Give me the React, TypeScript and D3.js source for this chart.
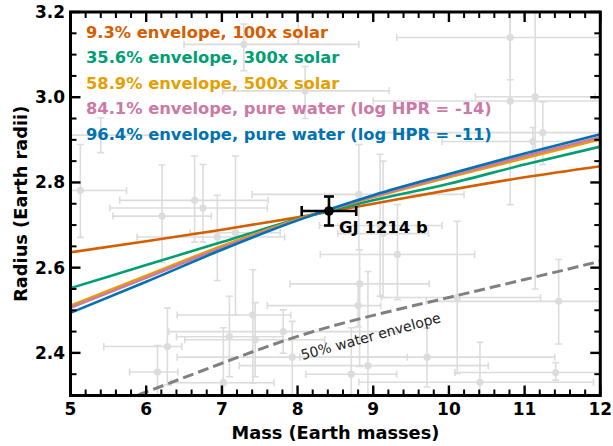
import React from "react";
import * as d3 from "d3";

const W = 613;
const H = 446;

const massTicks = [5, 6, 7, 8, 9, 10, 11, 12];
const radiusTicks = [2.4, 2.6, 2.8, 3.0, 3.2];

// model curves
const modelMass = [5, 6, 7, 8, 9, 10, 11, 12];
const r100xSolar = [2.636, 2.662, 2.689, 2.718, 2.75, 2.782, 2.812, 2.838];
const r300xSolar = [2.552, 2.606, 2.66, 2.714, 2.758, 2.797, 2.842, 2.884];
const r500xSolar = [2.511, 2.581, 2.651, 2.713, 2.765, 2.812, 2.857, 2.901];
const rWater14 = [2.506, 2.576, 2.647, 2.712, 2.767, 2.816, 2.862, 2.906];
const rWater11 = [2.494, 2.567, 2.642, 2.711, 2.77, 2.82, 2.868, 2.913];
const seriesNames = [
  "9.3% envelope, 100x solar",
  "35.6% envelope, 300x solar",
  "58.9% envelope, 500x solar",
  "84.1% envelope, pure water (log HPR = -14)",
  "96.4% envelope, pure water (log HPR = -11)",
];
const seriesColors = ["#D55E00", "#009E73", "#E69F00", "#CC79A7", "#0072B2"];

// 50% water envelope
const waterMass = [5.5, 6, 7, 8, 9, 10, 11, 12];
const waterRadius = [2.275, 2.308, 2.376, 2.442, 2.489, 2.53, 2.572, 2.615];

// background planets
const obsMass = [7.29, 5.13, 6.21, 6.64, 6.75, 6.94, 7.18, 6.28, 6.15, 7.1, 7.02, 7.41, 7.44, 7.81, 7.93, 8.82, 8.8, 9.32, 8.71, 8.93, 10.11, 11.45, 9.71, 10.41, 11.41, 8.1, 8.81, 10.81, 10.81, 11.14, 11.24, 11.11, 5.4, 9.09, 9.13, 8.01];
const obsMassLo = [0.79, 0.7, 0.65, 0.99, 1.23, 1.06, 0.6, 0.84, 0.37, 0.7, 0.69, 1.0, 0.93, 1.51, 1.52, 0.92, 1.2, 1.02, 0.6, 1.7, 1.0, 1.75, 1.68, 1.6, 1.33, 1.09, 1.41, 1.5, 1.81, 0.79, 2.18, 1.2, 0.8, 0.8, 0.6, 0.5];
const obsMassHi = [1.52, 0.61, 0.65, 0.97, 0.85, 0.89, 0.59, 0.19, 0.27, 0.71, 0.67, 0.5, 0.92, 1.51, 1.52, 0.92, 0.3, 1.02, 0.6, 1.59, 1.1, 1.75, 1.69, 1.5, 1.33, 1.11, 1.39, 1.5, 1.81, 0.79, 2.18, 1.2, 0.8, 0.82, 0.6, 0.5];
const obsRadius = [3.124, 2.781, 2.721, 2.758, 2.74, 2.672, 2.682, 2.415, 2.355, 2.438, 2.33, 2.489, 2.431, 2.45, 2.39, 2.562, 2.511, 2.631, 2.35, 2.37, 2.53, 2.521, 2.39, 2.331, 2.354, 3.015, 2.772, 3.14, 2.991, 3.001, 2.917, 2.896, 2.911, 2.699, 2.68, 3.26];
const obsRadLo = [0.062, 0.11, 0.109, 0.098, 0.08, 0.102, 0.193, 0.09, 0.08, 0.094, 0.1, 0.16, 0.087, 0.051, 0.1, 0.194, 0.05, 0.106, 0.1, 0.1, 0.178, 0.1, 0.07, 0.1, 0.018, 0.065, 0.13, 0.099, 0.243, 0.451, 0.075, 0.034, 0.041, 0.166, 0.15, 0.135];
const obsRadHi = [0.048, 0.108, 0.12, 0.104, 0.102, 0.098, 0.18, 0.09, 0.062, 0.095, 0.129, 0.106, 0.087, 0.051, 0.084, 0.08, 0.05, 0.117, 0.109, 0.221, 0.179, 0.098, 0.068, 0.094, 0.023, 0.057, 0.117, 0.1, 0.22, 0.45, 0.072, 0.033, 0.041, 0.167, 0.17, 0.1];

// GJ 1214 b
const gjMass = 8.415;
const gjMassErr = 0.36;
const gjRadius = 2.733;
const gjRadiusErr = 0.034;

export default function App() {
  const left = 70.5, right = 600.3, top = 12, bottom = 395.5;
  const x = d3.scaleLinear().domain([5, 12]).range([left, right]);
  const y = d3.scaleLinear().domain([2.3, 3.2]).range([bottom, top]);
  const font = "DejaVu Sans";
  const modelSeries = [r100xSolar, r300xSolar, r500xSolar, rWater14, rWater11];

  const line = d3
    .line<[number, number]>()
    .x((d) => x(d[0]))
    .y((d) => y(d[1]))
    .curve(d3.curveMonotoneX);

  const waterLine = d3
    .line<[number, number]>()
    .x((d) => x(d[0]))
    .y((d) => y(d[1]))
    .curve(d3.curveBasis);

  const xMinor = d3.range(5, 12.001, 0.2).filter((v) => Math.abs(v - Math.round(v)) > 1e-6);
  const yMinor = d3.range(2.3, 3.2001, 0.05).filter((v) => Math.abs(v * 5 - Math.round(v * 5)) > 1e-6);

  const gray = "#dcdcdc";
  const cap = 3.5;
  const maj = 10, mnr = 6;

  return (
    <svg width={W} height={H} style={{ position: "absolute", left: 0, top: 0, background: "#fff" }} fontFamily={font}>
      <defs>
        <clipPath id="plotclip">
          <rect x={left} y={top} width={right - left} height={bottom - top} />
        </clipPath>
      </defs>
      <rect x={0} y={0} width={W} height={H} fill="#fff" />

      <g clipPath="url(#plotclip)">
        {/* background planets */}
        {obsMass.map((m, i) => {
          const cx = x(m), cy = y(obsRadius[i]);
          const x0 = x(m - obsMassLo[i]), x1 = x(m + obsMassHi[i]);
          const y0 = y(obsRadius[i] - obsRadLo[i]), y1 = y(obsRadius[i] + obsRadHi[i]);
          return (
            <g key={i} stroke={gray} strokeWidth={1.6} fill="none">
              <line x1={x0} x2={x1} y1={cy} y2={cy} />
              <line x1={x0} x2={x0} y1={cy - cap} y2={cy + cap} />
              <line x1={x1} x2={x1} y1={cy - cap} y2={cy + cap} />
              <line x1={cx} x2={cx} y1={y0} y2={y1} />
              <line x1={cx - cap} x2={cx + cap} y1={y0} y2={y0} />
              <line x1={cx - cap} x2={cx + cap} y1={y1} y2={y1} />
              <circle cx={cx} cy={cy} r={3.6} fill={gray} stroke="none" />
            </g>
          );
        })}

        {/* 50% water dashed */}
        <path
          d={waterLine(waterMass.map((m, i) => [m, waterRadius[i]] as [number, number])) || ""}
          fill="none"
          stroke="#808080"
          strokeWidth={3}
          strokeDasharray="11,5"
        />

        {/* model curves */}
        {modelSeries.map((s, k) => (
          <path
            key={k}
            d={line(modelMass.map((m, i) => [m, s[i]] as [number, number])) || ""}
            fill="none"
            stroke={seriesColors[k]}
            strokeWidth={2.6}
          />
        ))}
      </g>

      <text
        x={0}
        y={0}
        transform={`translate(372,341) rotate(-15.3)`}
        textAnchor="middle"
        fontSize={14}
        fill="#222"
      >
        50% water envelope
      </text>

      {/* GJ 1214 b */}
      <g stroke="#000" strokeWidth={2.6}>
        <line x1={x(gjMass - gjMassErr)} x2={x(gjMass + gjMassErr)} y1={y(gjRadius)} y2={y(gjRadius)} />
        <line x1={x(gjMass - gjMassErr)} x2={x(gjMass - gjMassErr)} y1={y(gjRadius) - 5} y2={y(gjRadius) + 5} />
        <line x1={x(gjMass + gjMassErr)} x2={x(gjMass + gjMassErr)} y1={y(gjRadius) - 5} y2={y(gjRadius) + 5} />
        <line x1={x(gjMass)} x2={x(gjMass)} y1={y(gjRadius - gjRadiusErr)} y2={y(gjRadius + gjRadiusErr)} />
        <line x1={x(gjMass) - 5} x2={x(gjMass) + 5} y1={y(gjRadius - gjRadiusErr)} y2={y(gjRadius - gjRadiusErr)} />
        <line x1={x(gjMass) - 5} x2={x(gjMass) + 5} y1={y(gjRadius + gjRadiusErr)} y2={y(gjRadius + gjRadiusErr)} />
      </g>
      <circle cx={x(gjMass)} cy={y(gjRadius)} r={4.8} fill="#000" />
      <text x={x(gjMass) + 10} y={y(gjRadius) + 22} fontSize={16.5} fontWeight="bold" fill="#000">
        GJ 1214 b
      </text>

      {/* legend */}
      {seriesNames.map((n, k) => (
        <text key={k} x={86} y={37.5 + k * 25.6} fontSize={16.3} fontWeight="bold" fill={seriesColors[k]}>
          {n}
        </text>
      ))}

      {/* ticks */}
      <g stroke="#000">
        {massTicks.map((t) => (
          <g key={"xm" + t} strokeWidth={2.4}>
            <line x1={x(t)} x2={x(t)} y1={bottom} y2={bottom - maj} />
            <line x1={x(t)} x2={x(t)} y1={top} y2={top + maj} />
          </g>
        ))}
        {xMinor.map((t, i) => (
          <g key={"xn" + i} strokeWidth={2}>
            <line x1={x(t)} x2={x(t)} y1={bottom} y2={bottom - mnr} />
            <line x1={x(t)} x2={x(t)} y1={top} y2={top + mnr} />
          </g>
        ))}
        {radiusTicks.map((t) => (
          <g key={"ym" + t} strokeWidth={2.4}>
            <line x1={left} x2={left + maj} y1={y(t)} y2={y(t)} />
            <line x1={right} x2={right - maj} y1={y(t)} y2={y(t)} />
          </g>
        ))}
        {yMinor.map((t, i) => (
          <g key={"yn" + i} strokeWidth={2}>
            <line x1={left} x2={left + mnr} y1={y(t)} y2={y(t)} />
            <line x1={right} x2={right - mnr} y1={y(t)} y2={y(t)} />
          </g>
        ))}
      </g>
      <rect x={left} y={top} width={right - left} height={bottom - top} fill="none" stroke="#000" strokeWidth={3} />

      {/* tick labels */}
      {massTicks.map((t) => (
        <text key={"xl" + t} x={x(t)} y={414.5} textAnchor="middle" fontSize={17} fontWeight="bold" fill="#000">
          {t}
        </text>
      ))}
      {radiusTicks.map((t) => (
        <text key={"yl" + t} x={65} y={y(t) + 6} textAnchor="end" fontSize={17} fontWeight="bold" fill="#000">
          {t.toFixed(1)}
        </text>
      ))}

      {/* axis labels */}
      <text x={(left + right) / 2} y={439} textAnchor="middle" fontSize={17.8} fontWeight="bold" fill="#000">
        Mass (Earth masses)
      </text>
      <text
        transform={`translate(27,${(top + bottom) / 2}) rotate(-90)`}
        textAnchor="middle"
        fontSize={17.8}
        fontWeight="bold"
        fill="#000"
      >
        Radius (Earth radii)
      </text>
    </svg>
  );
}
